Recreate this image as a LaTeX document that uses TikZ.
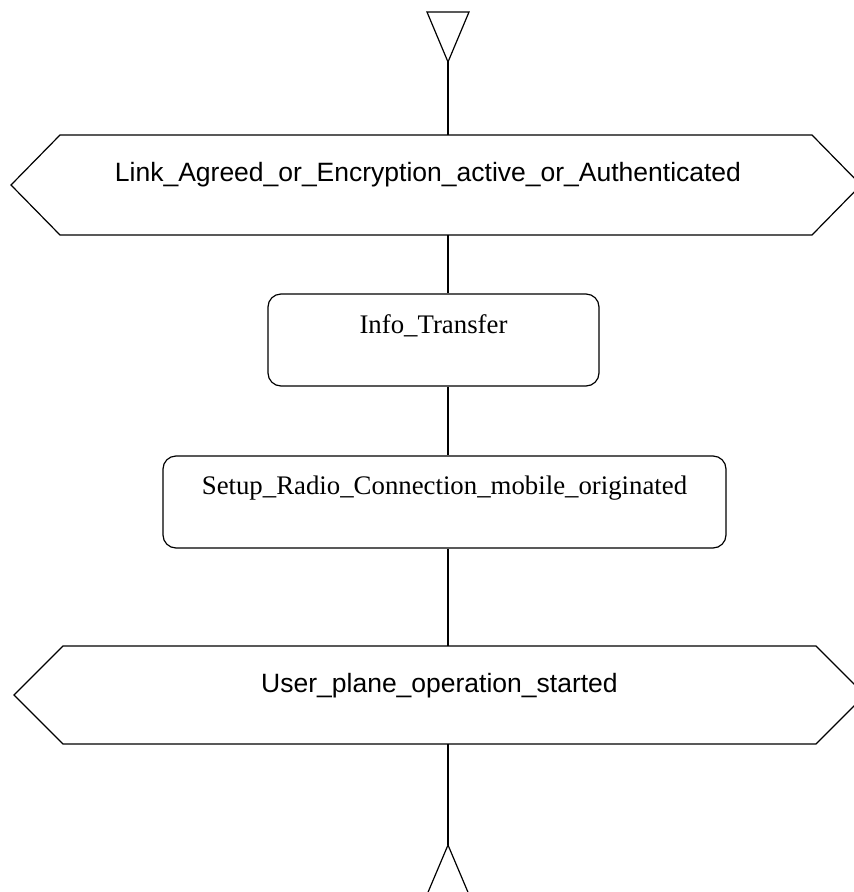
\documentclass[tikz,border=0pt]{standalone}
\usepackage{fontspec}
\setmainfont{Liberation Serif}
\newfontfamily\arialfont{Liberation Sans}
\begin{document}
\begin{tikzpicture}[x=1pt,y=-1pt,
  shape line/.style={line width=1.2pt, line join=miter},
  boxnode/.style={draw, line width=1.2pt, rounded corners=13pt, inner sep=0pt},
  sanslabel/.style={anchor=base, inner sep=0pt, font=\arialfont\fontsize{26.5}{30}\selectfont},
  seriflabel/.style={anchor=base, inner sep=0pt, font=\fontsize{26.8}{30}\selectfont},
  conn/.style={line width=1.2pt}]
\useasboundingbox (0,0) rectangle (854,892);
\clip (0,0) rectangle (854,892);

% top triangle (pointing down)
\coordinate (tapex) at (448,62);
\draw[shape line] (427,12) -- (469,12) -- (tapex) -- cycle;

% hexagon 1
\coordinate (h1top) at (448,135);
\coordinate (h1bot) at (448,235);
\draw[shape line] (11,185) -- (60,135) -- (812,135) -- (861,185) -- (812,235) -- (60,235) -- cycle;
\node[sanslabel] (t1) at (428,181) {Link\_Agreed\_or\_Encryption\_active\_or\_Authenticated};

% Info_Transfer box
\node[boxnode, minimum width=331pt, minimum height=92pt] (info) at (433.5,340) {};
\node[seriflabel] (infot) at (433.5,333) {Info\_Transfer};

% Setup box
\node[boxnode, minimum width=563pt, minimum height=92pt] (setup) at (444.5,502) {};
\node[seriflabel] (setupt) at (444.5,494) {Setup\_Radio\_Connection\_mobile\_originated};

% hexagon 2
\coordinate (h2top) at (448,646);
\coordinate (h2bot) at (448,744);
\draw[shape line] (14,695) -- (63,646) -- (816,646) -- (865,695) -- (816,744) -- (63,744) -- cycle;
\node[sanslabel] (t2) at (439.5,692) {User\_plane\_operation\_started};

% bottom triangle (pointing up)
\coordinate (bapex) at (448,845);
\draw[shape line] (bapex) -- (470,897) -- (426,897) -- cycle;

% connectors
\draw[conn] (tapex) -- (h1top);
\draw[conn] (h1bot) -- (h1bot |- info.north);
\draw[conn] (h1bot |- info.south) -- (h1bot |- setup.north);
\draw[conn] (h1bot |- setup.south) -- (h2top);
\draw[conn] (h2bot) -- (bapex);
\end{tikzpicture}
\end{document}
